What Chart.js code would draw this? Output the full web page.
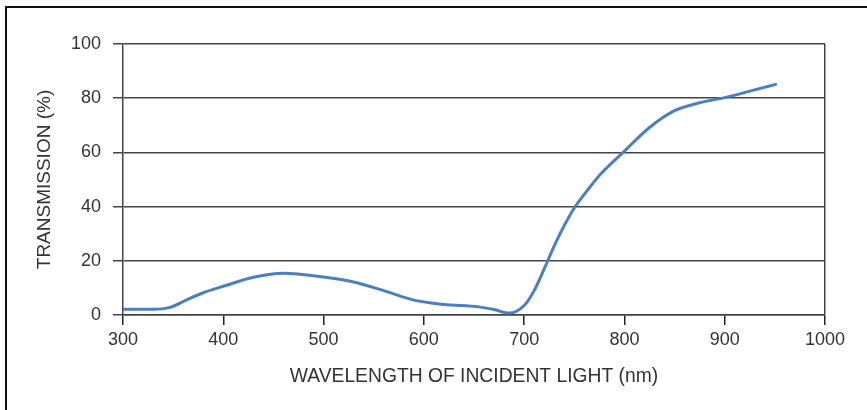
<!DOCTYPE html>
<html>
<head>
<meta charset="utf-8">
<script src="https://cdn.jsdelivr.net/npm/chart.js@4/dist/chart.umd.min.js"></script>
<style>
  html, body { margin: 0; padding: 0; background: #fff; overflow: hidden; }
  #frame { position: absolute; left: 5px; top: 6px; width: 1000px; height: 1000px; border: 2px solid #111; box-sizing: border-box; }
  #wrap { position: absolute; left: 0; top: 0; width: 867px; height: 410px; }
</style>
</head>
<body>
<div id="frame"></div>
<div id="wrap"><canvas id="c" width="867" height="410"></canvas></div>
<script>
// Data
const wavelengthNm = [300, 330, 347, 363, 380, 400, 430, 460, 500, 530, 560, 590, 620, 655, 670, 685, 700, 710, 720, 730, 740, 750, 762, 775, 800, 825, 850, 875, 900, 925, 952];
const transmissionPct = [2.1, 2.1, 2.8, 5.5, 8.2, 10.6, 13.9, 15.4, 14, 12.2, 9, 5.5, 3.9, 3, 2, 0.7, 3.5, 9, 17, 25.5, 33, 39.5, 45.5, 51.5, 60.5, 69.2, 75.4, 78.3, 80.2, 82.6, 85.2];
const xAxisTitle = 'WAVELENGTH OF INCIDENT LIGHT (nm)';
const yAxisTitle = 'TRANSMISSION (%)';

const points = wavelengthNm.map((x, i) => ({ x: x, y: transmissionPct[i] }));

const FONT = 'Liberation Sans, Arial, sans-serif';

new Chart(document.getElementById('c'), {
  type: 'line',
  data: {
    datasets: [{
      data: points,
      borderColor: '#4a7fc1',
      borderWidth: 3,
      pointRadius: 0,
      cubicInterpolationMode: 'monotone',
      fill: false
    }]
  },
  options: {
    responsive: false,
    animation: false,
    devicePixelRatio: 1,
    layout: { padding: { left: 0, top: 44, right: 42, bottom: 0 } },
    plugins: { legend: { display: false }, tooltip: { enabled: false } },
    scales: {
      x: {
        type: 'linear',
        min: 300, max: 1000,
        afterFit: (s) => { s.height = 95; },
        ticks: { stepSize: 100, color: '#333', padding: 4, font: { family: FONT, size: 18 }, callback: (v) => String(v) },
        grid: {
          drawOnChartArea: true,
          color: (ctx) => (ctx.tick && ctx.tick.value === 1000) ? '#444' : 'rgba(0,0,0,0)',
          lineWidth: 1.5,
          tickColor: '#222',
          tickLength: 10
        },
        border: { color: '#444', width: 1.5 },
        title: { display: true, text: xAxisTitle, color: '#333', font: { family: FONT, size: 19.3 }, padding: { top: 0, bottom: 22 } }
      },
      y: {
        min: 0, max: 100,
        afterFit: (s) => { s.width = 123; },
        ticks: { stepSize: 20, color: '#333', padding: 12, font: { family: FONT, size: 18 }, callback: (v) => String(v) },
        grid: { color: '#444', lineWidth: 1.5, tickColor: '#444', tickLength: 10 },
        border: { color: '#444', width: 1.5 },
        title: { display: true, text: yAxisTitle, color: '#333', font: { family: FONT, size: 19 }, padding: { top: 33, bottom: 0 } }
      }
    }
  }
});
</script>
</body>
</html>
